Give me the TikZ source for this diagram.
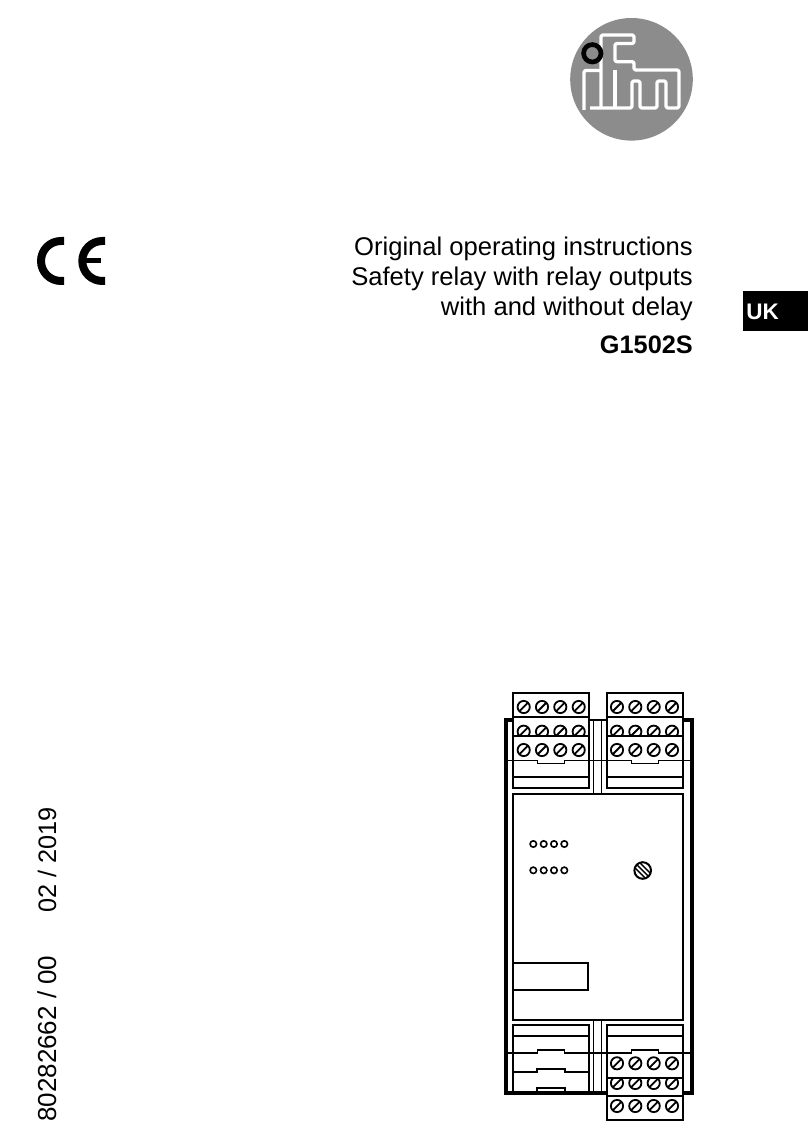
\documentclass[tikz,border=0pt]{standalone}
\usepackage{fontspec}
\setmainfont{Liberation Sans}
\tikzset{
 hw/.style={line width=1.9pt,black},
 hwthin/.style={line width=1.4pt,black},
 housing/.style={line width=3.8pt,black,line join=miter},
 logo/.style={line width=3.3pt,white,line join=round,rounded corners=2pt},
 label/.style={font=\fontsize{25.6}{30}\selectfont,anchor=base east,inner sep=0pt},
 side/.style={font=\fontsize{26}{30}\selectfont,anchor=base west,inner sep=0pt,rotate=90}
}
\newcommand{\screw}[2]{%
 \draw[line width=1.8pt,black] (#1,#2) circle (6.1);
 \draw[line width=1.8pt,black] (#1-4.3,#2+4.3) -- (#1+4.3,#2-4.3);}
\newcommand{\screwrow}[5]{\screw{#1}{#5}\screw{#2}{#5}\screw{#3}{#5}\screw{#4}{#5}}
\begin{document}
\begin{tikzpicture}[x=1pt,y=-1pt]
\useasboundingbox (0,0) rectangle (808,1139);
% logo
\fill[black!45] (631.5,79.3) circle (61.3);
\draw[logo] (584,110) -- (584,70.5) -- (601,70.5);
\draw[logo] (590,108) -- (632,108) -- (632,81) -- (640,81) -- (640,108) -- (657,108) -- (657,81) -- (666,81) -- (666,108) -- (679,108) -- (679,70) -- (634,70) -- (634,61.7) -- (615,61.7) -- (615,43.5) -- (634,43.5) -- (634,35) -- (601,35) -- (601,108);
\draw[logo] (615,70) -- (615,108);
\draw[black,line width=4.7pt] (592.3,53.3) circle (8.7);
% CE mark
\draw[line width=8pt,black] (64,241) -- (61,241) arc[start angle=270,end angle=90,radius=20] -- (64,281);
\draw[line width=8pt,black] (105,241) -- (102.3,241) arc[start angle=270,end angle=90,radius=20] -- (105,281);
\fill[black] (84,258) rectangle (101,263);
% titles
\node[label] (t1) at (693,255.5) {Original operating instructions};
\node[label] (t2) at (693,285.5) {Safety relay with relay outputs};
\node[label] (t3) at (693,315.5) {with and without delay};
\node[label,font=\fontsize{25.3}{30}\selectfont\bfseries] (t4) at (693,353) {G1502S};
\fill[black] (743,291) rectangle (808,331);
\node[font=\fontsize{22.5}{28}\selectfont\bfseries,text=white,anchor=base,inner sep=0pt] (uk) at (762.5,319) {UK};
\node[side] (s1) at (56,1122) {80282662 / 00};
\node[side,font=\fontsize{25.3}{30}\selectfont] (s2) at (56,913) {02 / 2019};
% housing
\draw[housing] (513,720) -- (505.7,720) -- (505.7,1092.7) -- (607,1092.7);
\draw[housing] (683,720) -- (692.3,720) -- (692.3,1092.7) -- (683,1092.7);
\draw[line width=2.6pt] (589,720) -- (607,720);
\draw[hwthin] (593.7,720) -- (593.7,794);
\draw[hwthin] (601.3,720) -- (601.3,794);
\draw[hwthin] (593.7,1019) -- (593.7,1092);
\draw[hwthin] (601.3,1019) -- (601.3,1092);
% centre panel
\draw[hw] (513.3,794) rectangle (683,1019.7);
\draw[hw] (513.3,962.7) -- (587.7,962.7) -- (587.7,990.3) -- (513.3,990.3);
% LEDs
\foreach \yy in {844,870.3}{\foreach \xx in {533.3,543.7,554,564.3}{\draw[line width=1.6pt] (\xx,\yy) circle (3.2);}}
\draw[line width=2pt] (642.7,870.5) circle (8.3);
\draw[line width=1.4pt] (637,864.8) -- (648.4,876.2);
\draw[line width=1.4pt] (640.1,862.9) -- (650.3,873.1);
\draw[line width=1.4pt] (635.1,867.9) -- (645.3,878.1);
% upper terminal blocks
\foreach \xa/\xb in {513/589,607.3/683}{
 \fill[white] (\xa,693.3) rectangle (\xb,788);
 \draw[hw] (\xa,693.3) rectangle (\xb,788);
 \draw[hw] (\xa,716.7) -- (\xb,716.7);
 \draw[hw] (\xa,735.7) -- (\xb,735.7);
 \draw[hw] (\xa,777) -- (\xb,777);
}
\begin{scope}
 \clip (513,717) rectangle (683,735.7);
 \screwrow{523.7}{542}{560.3}{578.7}{731.7}
 \screwrow{617}{635.3}{653.7}{672}{731.7}
\end{scope}
\screwrow{523.7}{542}{560.3}{578.7}{707}
\screwrow{617}{635.3}{653.7}{672}{707}
\screwrow{523.7}{542}{560.3}{578.7}{750}
\screwrow{617}{635.3}{653.7}{672}{750}
\draw[hwthin] (507,760.3) -- (537.3,760.3) -- (537.3,763.7) -- (564.7,763.7) -- (564.7,760.3) -- (631.3,760.3) -- (631.3,763.7) -- (658.7,763.7) -- (658.7,760.3) -- (691,760.3);
% lower terminal blocks
\draw[hw] (513.3,1092) -- (513.3,1025) -- (589,1025) -- (589,1092);
\draw[hw] (513.3,1036) -- (589,1036);
\draw[hw] (513.3,1072.3) -- (537.3,1072.3) -- (537.3,1069.3) -- (564.7,1069.3) -- (564.7,1072.3) -- (589,1072.3);
\draw[hw] (537.3,1092) -- (537.3,1088.3) -- (564.7,1088.3) -- (564.7,1092);
\fill[white] (607.3,1053) rectangle (683,1120.3);
\draw[hw] (607.3,1025) rectangle (683,1120.3);
\draw[hw] (607.3,1036) -- (683,1036);
\draw[hw] (607.3,1077.7) -- (683,1077.7);
\draw[hw] (607.3,1096) -- (683,1096);
\begin{scope}
 \clip (607,1077.7) rectangle (683,1096);
 \screwrow{617}{635.3}{653.7}{672}{1083}
\end{scope}
\screwrow{617}{635.3}{653.7}{672}{1063.3}
\screwrow{617}{635.3}{653.7}{672}{1106}
\draw[hwthin] (507,1053) -- (537.3,1053) -- (537.3,1050) -- (564.7,1050) -- (564.7,1053) -- (631.3,1053) -- (631.3,1050) -- (658.7,1050) -- (658.7,1053) -- (691,1053);
\end{tikzpicture}
\end{document}
